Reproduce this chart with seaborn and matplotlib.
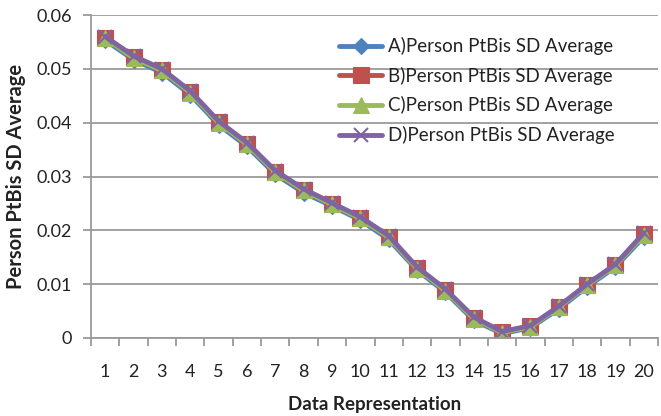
import matplotlib
matplotlib.use("Agg")
import matplotlib.pyplot as plt
import matplotlib.ticker as mticker
import seaborn as sns
import pandas as pd

# Data representation index (x categories)
representation = list(range(1, 21))

series_names = [
    "A)Person PtBis SD Average",
    "B)Person PtBis SD Average",
    "C)Person PtBis SD Average",
    "D)Person PtBis SD Average",
]

series_a = [0.0553, 0.0517, 0.0493, 0.0452, 0.0396, 0.0356, 0.0304, 0.0270, 0.0245,
            0.0219, 0.0183, 0.0126, 0.0085, 0.0033, 0.0008, 0.0019, 0.0054, 0.0095,
            0.0132, 0.0188]
series_b = [0.0558, 0.0522, 0.0498, 0.0457, 0.0401, 0.0361, 0.0309, 0.0275, 0.0249,
            0.0223, 0.0188, 0.0130, 0.0089, 0.0037, 0.0011, 0.0022, 0.0058, 0.0099,
            0.0136, 0.0193]
series_c = [0.0557, 0.0520, 0.0497, 0.0456, 0.0400, 0.0360, 0.0308, 0.0274, 0.0248,
            0.0222, 0.0187, 0.0129, 0.0088, 0.0036, 0.0010, 0.0021, 0.0057, 0.0098,
            0.0135, 0.0192]
series_d = [0.0560, 0.0524, 0.0500, 0.0459, 0.0403, 0.0363, 0.0311, 0.0277, 0.0251,
            0.0225, 0.0190, 0.0132, 0.0091, 0.0039, 0.0012, 0.0023, 0.0059, 0.0100,
            0.0137, 0.0195]

y_ticks = [0, 0.01, 0.02, 0.03, 0.04, 0.05, 0.06]
y_tick_labels = ["0", "0.01", "0.02", "0.03", "0.04", "0.05", "0.06"]

colors = ["#4F81BD", "#C0504D", "#9BBB59", "#8064A2"]
markers = ["D", "s", "^", "x"]
marker_sizes = [8, 11, 11, 10]

frames = []
for name, vals in zip(series_names, [series_a, series_b, series_c, series_d]):
    frames.append(pd.DataFrame({"x": representation, "value": vals, "series": name}))
df = pd.concat(frames, ignore_index=True)

sns.set_style("white")
plt.rcParams["font.family"] = ["Lato", "DejaVu Sans"]

fig = plt.figure(figsize=(6.61, 4.16), dpi=100)
ax = fig.add_axes([91 / 661, 1 - 338 / 416, (658 - 91) / 661, (338 - 15) / 416])

for name, col, mk, ms in zip(series_names, colors, markers, marker_sizes):
    sub = df[df["series"] == name]
    sns.lineplot(data=sub, x="x", y="value", ax=ax, color=col, marker=mk,
                 markersize=ms, linewidth=3.5, label=name,
                 markeredgecolor=col, markeredgewidth=1.5 if mk == "x" else 0.8)

ax.set_xlim(0.5, 20.5)
ax.set_ylim(0, 0.06)
ax.set_yticks(y_ticks)
ax.set_yticklabels(y_tick_labels)
ax.yaxis.grid(True, color="#9a9a9a", linewidth=1.3)
ax.xaxis.grid(False)
ax.set_axisbelow(True)

ax.set_xticks(representation)
ax.set_xticklabels([str(v) for v in representation])
ax.xaxis.set_minor_locator(mticker.FixedLocator([v + 0.5 for v in range(0, 21)]))
ax.tick_params(axis="x", which="major", length=0, pad=19, labelsize=13, colors="#222222")
ax.tick_params(axis="x", which="minor", length=6, width=1.3, color="#9a9a9a", direction="out", bottom=True)
ax.tick_params(axis="y", which="major", length=6, width=1.3, color="#9a9a9a", direction="out",
               left=True, labelsize=13, pad=8, labelcolor="#222222")

for side in ["top", "right"]:
    ax.spines[side].set_visible(False)
for side in ["left", "bottom"]:
    ax.spines[side].set_color("#9a9a9a")
    ax.spines[side].set_linewidth(1.3)

ax.set_xlabel("Data Representation", fontsize=13.5, fontweight="bold", color="#222222")
ax.set_ylabel("Person PtBis SD Average", fontsize=14.5, fontweight="bold", color="#222222")
ax.xaxis.set_label_coords(0.5, -0.18)
ax.yaxis.set_label_coords(-0.1146, 0.5)

leg = ax.legend(loc="upper left", bbox_to_anchor=(0.425, 0.955), frameon=False,
                fontsize=13.5, handlelength=2.25, handletextpad=0.35, labelspacing=0.62,
                borderaxespad=0)
for t in leg.get_texts():
    t.set_color("#222222")

fig.savefig("out.png", dpi=100)
